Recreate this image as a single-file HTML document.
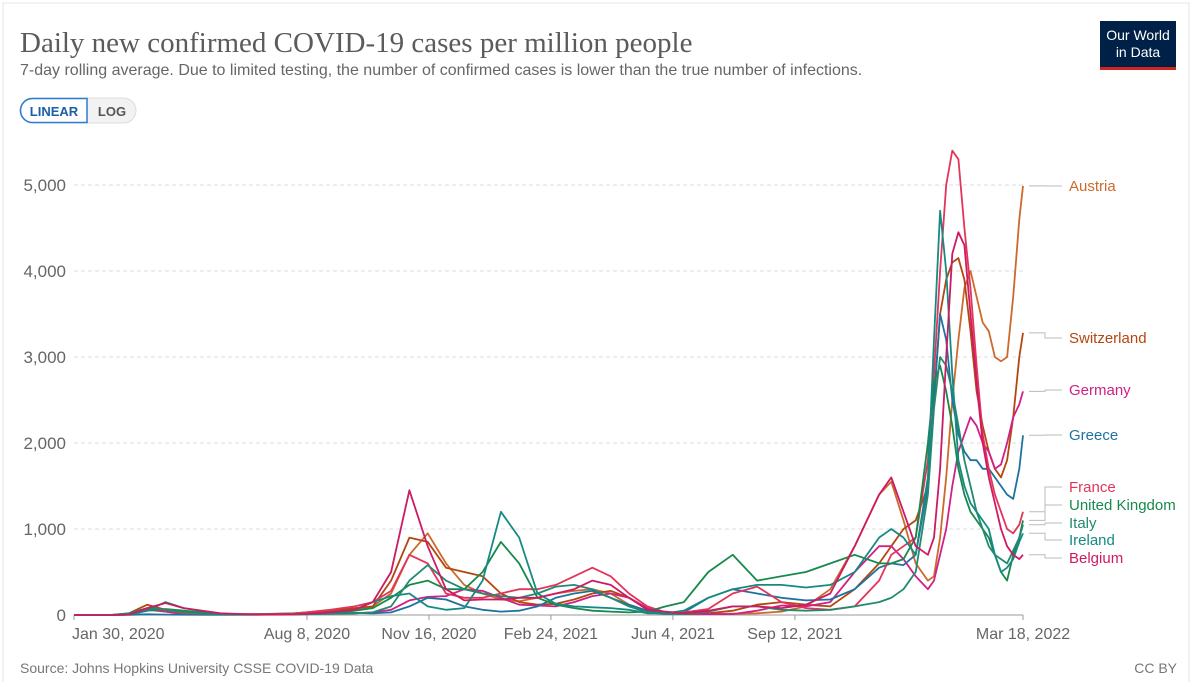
<!DOCTYPE html>
<html><head><meta charset="utf-8">
<style>
body{margin:0;width:1200px;height:682px;background:#fff;overflow:hidden;font-family:"Liberation Sans",sans-serif;}
svg text{font-family:"Liberation Sans",sans-serif;}
</style></head>
<body>
<svg id="chart" width="1200" height="682">
  <rect x="3" y="3" width="1186" height="690" fill="#fff" stroke="#e4e4e4"/>
  <text x="20" y="52" font-family="Liberation Serif, serif" font-size="29" fill="#5b5b5b" style="font-family:'Liberation Serif',serif">Daily new confirmed COVID-19 cases per million people</text>
  <text x="20" y="75" font-size="16" fill="#666">7-day rolling average. Due to limited testing, the number of confirmed cases is lower than the true number of infections.</text>
  <g>
    <rect x="20" y="98" width="116" height="25" rx="12.5" fill="#f2f2f2" stroke="#ddd"/>
    <path d="M87 98.5 H32.5 A12 12 0 0 0 32.5 122.5 H87 Z" fill="#fff" stroke="#2a7bd1" stroke-width="1.5"/>
    <text x="54" y="116" font-size="13" font-weight="bold" fill="#1c5fa8" text-anchor="middle">LINEAR</text>
    <text x="112" y="116" font-size="13" font-weight="bold" fill="#555" text-anchor="middle">LOG</text>
  </g>
  <g>
    <rect x="1100" y="21" width="76" height="49" fill="#002147"/>
    <rect x="1100" y="67" width="76" height="3" fill="#ce261e"/>
    <text x="1138" y="40" font-size="14" fill="#fff" text-anchor="middle">Our World</text>
    <text x="1138" y="57" font-size="14" fill="#fff" text-anchor="middle">in Data</text>
  </g>
  <g id="grid"></g>
  <g id="lines"></g>
  <g id="legend"></g>
  <text x="20" y="673" font-size="14" fill="#777">Source: Johns Hopkins University CSSE COVID-19 Data</text>
  <text x="1177" y="673" font-size="14" fill="#777" text-anchor="end">CC BY</text>
</svg>
<script>
const days = [0,30,45,60,75,90,120,150,180,210,230,245,260,275,290,305,320,335,350,365,380,395,410,425,440,455,470,485,500,520,540,560,580,600,620,640,660,670,680,690,700,705,710,715,720,725,730,735,740,745,750,755,760,765,770,775,778];
const austria = [0,0,5,80,40,8,5,10,15,40,60,100,250,700,950,600,350,250,180,160,200,250,280,300,250,120,50,20,10,10,15,20,40,100,300,800,1400,1550,1100,600,400,450,900,1600,2500,3200,3800,4000,3700,3400,3300,3000,2950,3000,3700,4600,4990];
const switzerland = [0,0,20,120,60,10,5,10,20,50,80,100,400,900,850,550,500,450,250,150,120,130,180,250,280,200,80,20,10,20,50,120,150,120,100,300,600,800,1000,1100,1500,2500,3500,3900,4100,4150,3900,3300,2600,2200,1900,1700,1600,1800,2300,3000,3280];
const germany = [0,0,10,60,40,15,5,5,10,15,20,30,60,170,210,220,300,280,200,120,110,100,150,220,250,200,80,30,15,10,10,50,110,100,150,500,800,800,650,450,300,400,700,1000,1500,1900,2100,2300,2200,2000,1900,1700,1750,2000,2300,2450,2600];
const greece = [0,0,2,8,5,3,2,3,10,20,25,20,30,100,200,180,100,60,40,50,100,200,250,280,200,120,50,30,30,200,300,250,200,170,180,300,550,600,580,700,1500,2500,3500,3200,2500,2100,1900,1800,1800,1700,1700,1600,1500,1400,1350,1700,2090];
const france = [0,0,10,60,60,20,10,10,15,60,100,150,280,700,600,250,200,200,250,300,300,350,450,550,450,250,100,30,30,70,250,330,150,80,60,100,400,700,800,900,1800,2800,4000,5000,5400,5300,4500,3800,2900,2100,1700,1400,1200,1000,950,1050,1200];
const uk = [0,0,5,50,70,50,10,5,10,20,50,80,200,350,400,300,300,500,850,600,200,120,80,50,40,30,40,100,150,500,700,400,450,500,600,700,600,600,650,900,2000,2700,2900,2600,2200,1700,1400,1200,1100,1000,900,700,500,400,700,900,1100];
const italy = [0,0,20,80,60,30,5,3,5,15,20,30,100,400,580,400,300,250,220,200,250,330,350,300,200,100,30,10,10,40,100,100,60,50,60,100,150,200,300,500,1400,2400,3000,2900,2600,2200,1800,1500,1200,1000,800,700,650,600,750,900,1050];
const ireland = [0,0,5,50,150,80,10,5,5,30,60,150,220,250,100,60,80,400,1200,900,250,130,100,90,80,60,20,20,50,200,300,350,350,320,350,500,900,1000,900,700,1600,3200,4700,4000,2800,1800,1500,1300,1200,1100,1000,700,500,550,650,850,950];
const belgium = [0,0,5,80,140,80,20,5,5,30,60,150,500,1450,800,300,170,180,180,200,200,250,300,400,350,200,60,40,20,50,100,100,80,120,250,800,1400,1600,1200,800,700,900,1700,3000,4200,4450,4300,3500,2700,2000,1600,1300,1000,800,700,650,700];
const yTicks = [0,1000,2000,3000,4000,5000];
const yTickLabels = ["0","1,000","2,000","3,000","4,000","5,000"];
const xTickDays = [0,191,291,391,491,591,778];
const xTickLabels = ["Jan 30, 2020","Aug 8, 2020","Nov 16, 2020","Feb 24, 2021","Jun 4, 2021","Sep 12, 2021","Mar 18, 2022"];
const seriesNames = ["Austria","Switzerland","Germany","Greece","France","United Kingdom","Italy","Ireland","Belgium"];
const seriesData = [austria,switzerland,germany,greece,france,uk,italy,ireland,belgium];
const seriesColors = ["#cc6a2c","#b3470f","#cf2188","#1f72a0","#e3345a","#17894c","#228a6f","#168a82","#cd1a64"];
const labelYs = [186,338,390,435,487,505,523,540,558];

const X0=74, X1=1023, Y0=615, Ymax=5000, Ytop=185;
const xs = d => X0 + d/778*(X1-X0);
const ys = v => Y0 - v/Ymax*(Y0-Ytop);
const NS="http://www.w3.org/2000/svg";
const grid=document.getElementById('grid'), lines=document.getElementById('lines'), legend=document.getElementById('legend');
function mk(tag, attrs, parent){const e=document.createElementNS(NS,tag);for(const k in attrs)e.setAttribute(k,attrs[k]);parent.appendChild(e);return e;}
yTicks.forEach((t,i)=>{
  const l=mk('line',{x1:X0,x2:X1,y1:ys(t),y2:ys(t),stroke:t===0?'#999':'#ddd','stroke-dasharray':t===0?'':'4,3'},grid);
  
  
  const tx=mk('text',{x:66,y:ys(t)+6,'font-size':17,fill:'#666','text-anchor':'end'},grid);
  tx.textContent=yTickLabels[i];
  
  
});
xTickDays.forEach((d,i)=>{
  const l=mk('line',{x1:xs(d),x2:xs(d),y1:Y0,y2:Y0+5,stroke:'#999'},grid);
  
  
  const anchor = i===0?'start':(i===xTickDays.length-1?'middle':'middle');
  const tx=mk('text',{x:i===0?xs(d)-2:xs(d),y:639,'font-size':16,fill:'#666','text-anchor':anchor},grid);
  tx.textContent=xTickLabels[i];
  
  
});
seriesData.forEach((arr,i)=>{
  const pts=arr.map((v,j)=>xs(days[j]).toFixed(1)+','+ys(v).toFixed(1)).join(' ');
  const p=mk('polyline',{points:pts,fill:'none',stroke:seriesColors[i],'stroke-width':1.8,'stroke-linejoin':'round'},lines);
  
  
  const endY=ys(arr[arr.length-1]), ly=labelYs[i];
  const c=mk('polyline',{points:`${X1+6},${endY} ${X1+22},${endY} ${X1+22},${ly} ${X1+39},${ly}`,fill:'none',stroke:'#bbb','stroke-width':1},legend);
  
  
  const t=mk('text',{x:1069,y:ly+5,'font-size':15,fill:seriesColors[i]},legend);
  t.textContent=seriesNames[i];
  
  
});
</script>
</body></html>
